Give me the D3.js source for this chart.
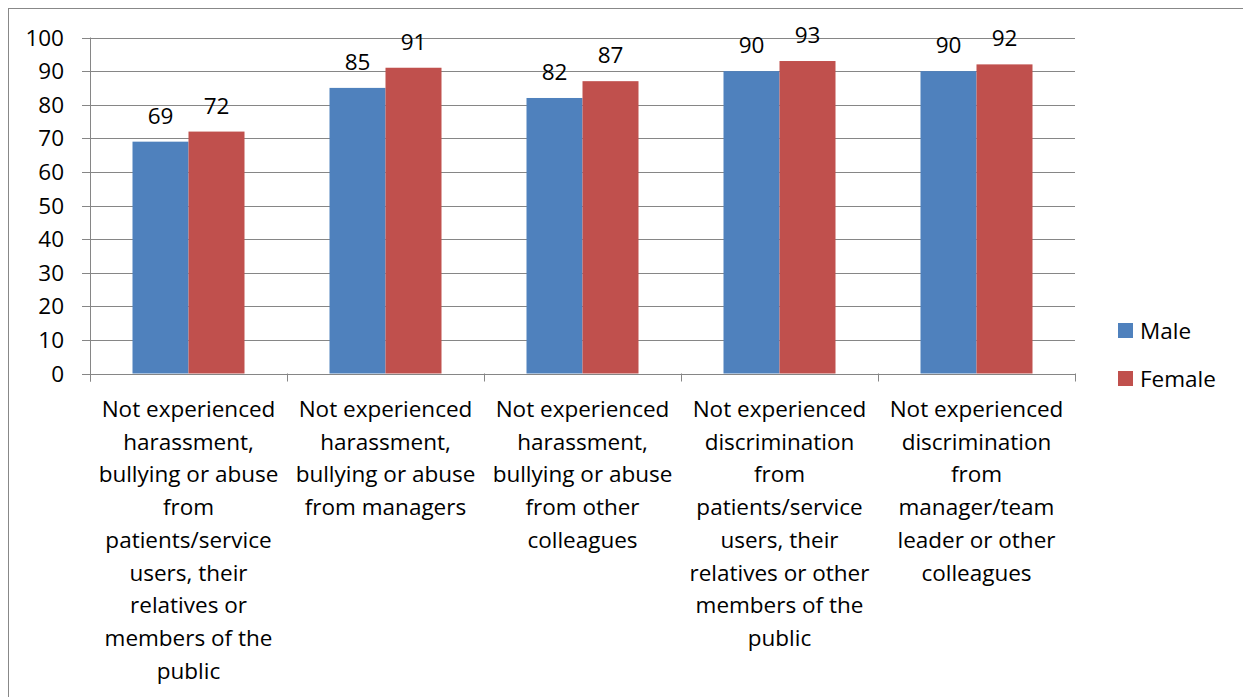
<!DOCTYPE html>
<html>
<head>
<meta charset="utf-8">
<script src="https://cdn.jsdelivr.net/npm/d3@7"></script>
<style>
  body { margin: 0; background: #fff; }
  svg text { font-family: "Open Sans", sans-serif; fill: #000; }
</style>
</head>
<body>
<div class="chart"></div>
<script>
// chart data
const categories = [
  ["Not experienced", "harassment,", "bullying or abuse", "from", "patients/service", "users, their", "relatives or", "members of the", "public"],
  ["Not experienced", "harassment,", "bullying or abuse", "from managers"],
  ["Not experienced", "harassment,", "bullying or abuse", "from other", "colleagues"],
  ["Not experienced", "discrimination", "from", "patients/service", "users, their", "relatives or other", "members of the", "public"],
  ["Not experienced", "discrimination", "from", "manager/team", "leader or other", "colleagues"]
];
const seriesNames = ["Male", "Female"];
const maleValues = [69, 85, 82, 90, 90];
const femaleValues = [72, 91, 87, 93, 92];
const yTicks = [0, 10, 20, 30, 40, 50, 60, 70, 80, 90, 100];
const colors = ["#4f81bd", "#c0504d"];

const width = 1243, height = 697;
const margin = {top: 37.5, left: 90, right: 168, bottom: 323.5};
const fontSize = 22.5;

const svg = d3.select(".chart")
  .append("svg")
  .attr("width", width)
  .attr("height", height);

// outer chart border
svg.append("rect")
  .attr("x", 8.5).attr("y", 8.5)
  .attr("width", 1300).attr("height", 800)
  .attr("fill", "none")
  .attr("stroke", "#888")
  .attr("stroke-width", 1);

const x = d3.scaleBand()
  .domain(d3.range(categories.length))
  .range([margin.left, width - margin.right])
  .paddingInner(0).paddingOuter(0);

const y = d3.scaleLinear()
  .domain([0, 100])
  .range([height - margin.bottom, margin.top]);

const gridColor = "#868686";

// gridlines
svg.append("g")
  .selectAll("line")
  .data(yTicks)
  .join("line")
  .attr("x1", margin.left - 8)
  .attr("x2", width - margin.right)
  .attr("y1", d => Math.round(y(d)) + 0.5)
  .attr("y2", d => Math.round(y(d)) + 0.5)
  .attr("stroke", gridColor)
  .attr("stroke-width", 1);

// y tick labels
svg.append("g")
  .selectAll("text")
  .data(yTicks)
  .join("text")
  .attr("x", margin.left - 26)
  .attr("y", d => y(d))
  .attr("dy", "0.36em")
  .attr("text-anchor", "end")
  .attr("font-size", fontSize)
  .text(d => d);

// bars
const barW = 56;
const series = [maleValues, femaleValues];
series.forEach((vals, si) => {
  svg.append("g")
    .selectAll("rect")
    .data(vals)
    .join("rect")
    .attr("x", (d, i) => x(i) + x.bandwidth() / 2 - barW + si * barW)
    .attr("y", d => y(d))
    .attr("width", barW)
    .attr("height", d => y(0) - y(d))
    .attr("fill", colors[si]);

  svg.append("g")
    .selectAll("text")
    .data(vals)
    .join("text")
    .attr("x", (d, i) => x(i) + x.bandwidth() / 2 - barW / 2 + si * barW)
    .attr("y", d => y(d) - 18)
    .attr("text-anchor", "middle")
    .attr("font-size", fontSize)
    .text(d => d);
});

// axes lines
svg.append("line")
  .attr("x1", margin.left + 0.5).attr("x2", margin.left + 0.5)
  .attr("y1", y(100)).attr("y2", y(0) + 8)
  .attr("stroke", gridColor);

svg.append("g")
  .selectAll("line")
  .data(d3.range(categories.length + 1))
  .join("line")
  .attr("x1", i => Math.round(margin.left + i * x.bandwidth()) + 0.5)
  .attr("x2", i => Math.round(margin.left + i * x.bandwidth()) + 0.5)
  .attr("y1", y(0))
  .attr("y2", y(0) + 8)
  .attr("stroke", gridColor);

// category labels
const catG = svg.append("g");
categories.forEach((lines, i) => {
  const t = catG.append("text")
    .attr("text-anchor", "middle")
    .attr("font-size", fontSize);
  lines.forEach((ln, j) => {
    t.append("tspan")
      .attr("x", x(i) + x.bandwidth() / 2)
      .attr("y", 417 + j * 32.7)
      .text(ln);
  });
});

// legend
const legend = svg.append("g");
seriesNames.forEach((name, i) => {
  legend.append("rect")
    .attr("x", 1118)
    .attr("y", 323 + i * 48)
    .attr("width", 15)
    .attr("height", 15)
    .attr("fill", colors[i]);
  legend.append("text")
    .attr("x", 1140)
    .attr("y", 330.5 + i * 48)
    .attr("dy", "0.36em")
    .attr("font-size", fontSize)
    .text(name);
});
</script>
</body>
</html>
